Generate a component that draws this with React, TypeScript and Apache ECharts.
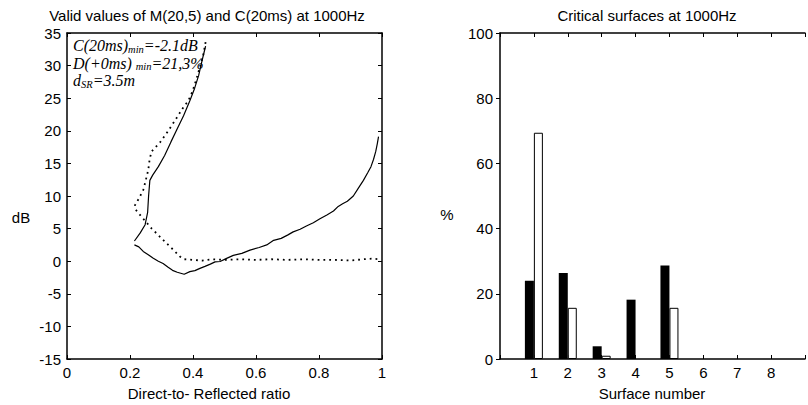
import React, { useEffect, useRef } from "react";
import * as echarts from "echarts";

// Left chart: Direct-to-Reflected ratio vs dB
const solidUpper: [number, number][] = [
  [0.214, 3.1], [0.232, 4.3], [0.248, 5.6], [0.256, 7.5], [0.259, 10.0], [0.263, 12.4],
  [0.272, 13.2], [0.29, 14.5], [0.31, 16.2], [0.33, 18.3], [0.35, 20.3], [0.37, 22.3],
  [0.39, 24.6], [0.405, 26.5], [0.418, 28.5], [0.428, 30.6], [0.436, 32.2], [0.44, 33.0],
];
const dottedCurve: [number, number][] = [
  [0.44, 33.6], [0.432, 31.5], [0.422, 29.8], [0.41, 27.8], [0.398, 26.0], [0.385, 24.6],
  [0.368, 23.5], [0.343, 21.6], [0.32, 19.9], [0.295, 18.2], [0.268, 16.8], [0.262, 15.5],
  [0.258, 14.0], [0.25, 12.4], [0.242, 10.9], [0.228, 9.6], [0.216, 8.6], [0.218, 7.9],
  [0.237, 6.8], [0.269, 5.0], [0.3, 3.5], [0.332, 2.0], [0.359, 0.7], [0.372, 0.3],
  [0.4, 0.2], [0.43, 0.1], [0.46, 0.3], [0.5, 0.2], [0.55, 0.3], [0.6, 0.2], [0.65, 0.3],
  [0.7, 0.2], [0.75, 0.3], [0.8, 0.2], [0.85, 0.2], [0.9, 0.1], [0.94, 0.3], [0.97, 0.4],
  [0.99, 0.3],
];
const solidLower: [number, number][] = [
  [0.214, 2.5], [0.228, 2.2], [0.242, 1.5], [0.258, 1.0], [0.274, 0.45], [0.29, 0.0],
  [0.305, -0.35], [0.32, -0.9], [0.335, -1.4], [0.35, -1.7], [0.372, -2.0], [0.39, -1.6],
  [0.406, -1.45], [0.422, -1.1], [0.438, -0.8], [0.455, -0.45], [0.47, -0.1], [0.486, -0.05],
  [0.505, 0.4], [0.528, 0.9], [0.555, 1.2], [0.581, 1.7], [0.61, 2.1], [0.634, 2.5],
  [0.656, 3.2], [0.68, 3.5], [0.7, 4.0], [0.718, 4.5], [0.74, 4.9], [0.76, 5.4], [0.782, 5.9],
  [0.803, 6.5], [0.825, 7.1], [0.846, 7.7], [0.861, 8.4], [0.875, 8.8], [0.89, 9.2],
  [0.909, 10.0], [0.925, 11.2], [0.941, 12.4], [0.955, 13.6], [0.965, 14.5], [0.973, 15.6],
  [0.98, 16.8], [0.985, 18.0], [0.989, 19.1],
];

// Right chart: Critical surfaces
const surfaces = ["0", "1", "2", "3", "4", "5", "6", "7", "8", "9"];
const blackBars = ["-", 24.0, 26.4, 3.9, 18.2, 28.7, "-", "-", "-", "-"];
const whiteBars = ["-", 69.4, 15.7, 1.0, "-", 15.7, "-", "-", "-", "-"];

const leftTitle = "Valid values of M(20,5) and C(20ms) at 1000Hz";
const rightTitle = "Critical surfaces at 1000Hz";

const FONT = "Liberation Sans, Arial, sans-serif";
const FS = 15;

export default function App() {
  const ref = useRef<HTMLDivElement>(null);
  useEffect(() => {
    if (!ref.current) return;
    const chart = echarts.init(ref.current, null, { renderer: "svg" });
    const axisLine = { show: true, onZero: false, lineStyle: { color: "#000", width: 1.5 } };
    const labelStyle = { color: "#000", fontSize: FS, fontFamily: FONT };
    const txt = (text: string, x: number, y: number, extra: any = {}) => ({
      type: "text",
      x,
      y,
      style: {
        text,
        fill: "#000",
        fontSize: FS,
        fontFamily: FONT,
        textAlign: "center",
        textVerticalAlign: "middle",
        ...extra,
      },
    });
    const serif = "Liberation Serif, Times New Roman, serif";
    chart.setOption({
      animation: false,
      backgroundColor: "#fff",
      grid: [
        { left: 67, top: 33, width: 315, height: 326 },
        { left: 500, top: 33, width: 316, height: 326 },
      ],
      xAxis: [
        {
          type: "value", gridIndex: 0, min: 0, max: 1, interval: 0.2, position: "bottom",
          axisLine, splitLine: { show: false },
          axisTick: { inside: true, length: 4, lineStyle: { color: "#000" } },
          axisLabel: { ...labelStyle, margin: 6 },
        },
        {
          type: "value", gridIndex: 0, min: 0, max: 1, interval: 0.2, position: "top",
          axisLine, splitLine: { show: false },
          axisTick: { inside: true, length: 4, lineStyle: { color: "#000" } },
          axisLabel: { show: false },
        },
        {
          type: "category", gridIndex: 1, data: surfaces, boundaryGap: false, position: "bottom",
          axisLine,
          axisTick: { inside: true, length: 4, interval: 0, lineStyle: { color: "#000" } },
          axisLabel: {
            ...labelStyle, margin: 6, interval: 0,
            formatter: (v: string) => (v === "0" || v === "9" ? "" : v),
          },
        },
        {
          type: "category", gridIndex: 1, data: surfaces, boundaryGap: false, position: "top",
          axisLine,
          axisTick: { inside: true, length: 4, interval: 0, lineStyle: { color: "#000" } },
          axisLabel: { show: false },
        },
      ],
      yAxis: [
        {
          type: "value", gridIndex: 0, min: -15, max: 35, interval: 5, position: "left",
          axisLine, splitLine: { show: false },
          axisTick: { show: true, inside: true, length: 4, lineStyle: { color: "#000" } },
          axisLabel: { ...labelStyle, margin: 6 },
        },
        {
          type: "value", gridIndex: 0, min: -15, max: 35, interval: 5, position: "right",
          axisLine, splitLine: { show: false },
          axisTick: { show: true, inside: true, length: 4, lineStyle: { color: "#000" } },
          axisLabel: { show: false },
        },
        {
          type: "value", gridIndex: 1, min: 0, max: 100, interval: 20, position: "left",
          axisLine, splitLine: { show: false },
          axisTick: { show: true, inside: false, length: 4, lineStyle: { color: "#000" } },
          axisLabel: { ...labelStyle, margin: 7 },
        },
      ],
      series: [
        {
          type: "line", xAxisIndex: 0, yAxisIndex: 0, data: solidUpper, showSymbol: false,
          lineStyle: { color: "#000", width: 1.2 },
        },
        {
          type: "line", xAxisIndex: 0, yAxisIndex: 0, data: solidLower, showSymbol: false,
          lineStyle: { color: "#000", width: 1.2 },
        },
        {
          type: "line", xAxisIndex: 0, yAxisIndex: 0, data: dottedCurve, showSymbol: false,
          lineStyle: { color: "#000", width: 1.8, type: [1.8, 4] },
        },
        {
          type: "bar", xAxisIndex: 2, yAxisIndex: 2, data: blackBars, barWidth: 9, barGap: "0%",
          itemStyle: { color: "#000" },
        },
        {
          type: "bar", xAxisIndex: 2, yAxisIndex: 2, data: whiteBars, barWidth: 9, barGap: "0%",
          itemStyle: { color: "#fff", borderColor: "#000", borderWidth: 1 },
        },
      ],
      graphic: [
        txt(leftTitle, 207, 15),
        txt(rightTitle, 647, 15),
        txt("dB", 21, 217),
        txt("%", 447, 214),
        txt("Direct-to- Reflected ratio", 209, 393),
        txt("Surface number", 652, 393),
        {
          type: "text",
          x: 73,
          y: 37,
          style: {
            text:
              "{m|C(20ms)}{s|min}{m|=-2.1dB}\n{m|D(+0ms) }{s|min}{m|=21,3%}\n{m|d}{s|SR}{m|=3.5m}",
            fill: "#000",
            rich: {
              m: { fontSize: 16, fontStyle: "italic", fontFamily: serif, lineHeight: 17.5, fill: "#000" },
              s: { fontSize: 10.5, fontStyle: "italic", fontFamily: serif, lineHeight: 10, verticalAlign: "bottom", fill: "#000" },
            },
          },
        },
      ],
    });
    return () => chart.dispose();
  }, []);
  return (
    <div
      ref={ref}
      style={{ position: "fixed", left: 0, top: 0, width: 808, height: 405, background: "#fff" }}
    />
  );
}
